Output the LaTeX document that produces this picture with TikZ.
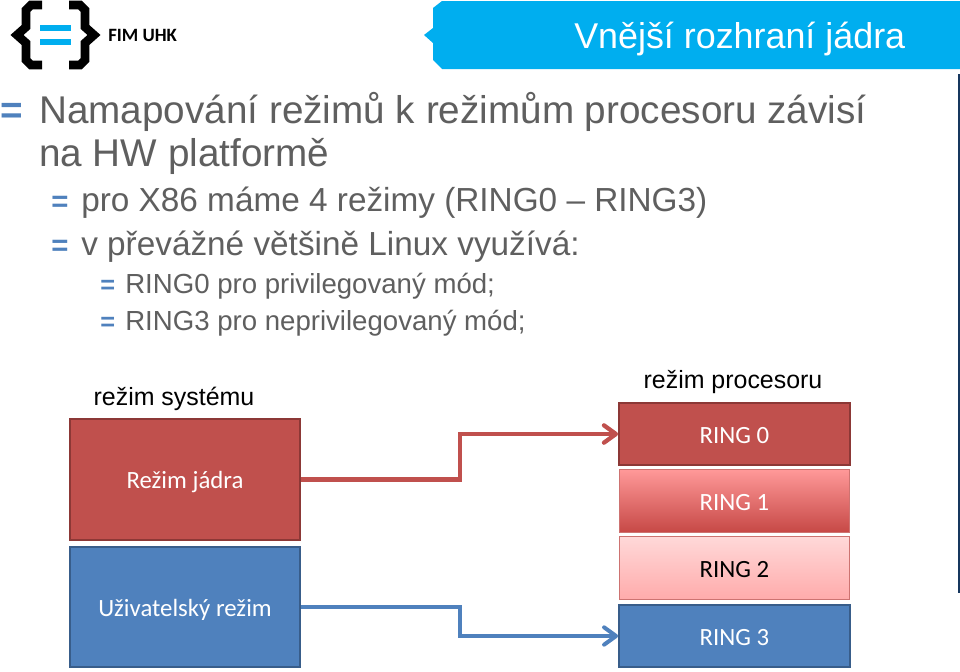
\documentclass[tikz,border=0pt]{standalone}
\usepackage{fontspec}
\setmainfont{Liberation Sans}
\newfontfamily\boxfont{Carlito}
\usetikzlibrary{arrows.meta}

\definecolor{headcyan}{HTML}{00AEEF}
\definecolor{bodygray}{HTML}{5F5F5F}
\definecolor{bulletblue}{HTML}{4F81BD}
\definecolor{barnavy}{HTML}{17375E}
\definecolor{ringred}{HTML}{C0504D}
\definecolor{ringredline}{HTML}{8C3836}
\definecolor{ringblue}{HTML}{4F81BD}
\definecolor{ringblueline}{HTML}{385D8A}

\tikzset{
	lvlone/.style={anchor=base west, inner sep=0pt, text=bodygray, font=\fontsize{29}{34}\selectfont},
	lvltwo/.style={anchor=base west, inner sep=0pt, text=bodygray, font=\fontsize{25}{30}\selectfont},
	lvlthree/.style={anchor=base west, inner sep=0pt, text=bodygray, font=\fontsize{20.7}{25}\selectfont},
	bulone/.style={lvlone, text=bulletblue, font=\bfseries\fontsize{29}{34}\selectfont},
	bultwo/.style={lvltwo, text=bulletblue, font=\bfseries\fontsize{22}{30}\selectfont},
	bulthree/.style={lvlthree, text=bulletblue, font=\bfseries\fontsize{19}{25}\selectfont},
	caption/.style={inner sep=0pt, text=black, font=\fontsize{18.7}{22}\selectfont},
	modebox/.style={rectangle, inner sep=0pt, text height=13.5pt, text depth=0pt, text=white, font=\boxfont\fontsize{18.6}{22}\selectfont},
	redbox/.style={modebox, fill=ringred, draw=ringredline, line width=1.6pt},
	bluebox/.style={modebox, fill=ringblue, draw=ringblueline, line width=1.6pt},
	redlink/.style={ringred, line width=3.4pt, -{Straight Barb[length=9pt,width=13pt,line width=3.2pt,round]}},
	bluelink/.style={ringblue, line width=2.8pt, -{Straight Barb[length=9pt,width=13pt,line width=3pt,round]}},
	brace/.style={black, line width=6.5pt}
}

\begin{document}
\begin{tikzpicture}[x=0.75pt,y=-0.75pt]

	%%% Page
	\useasboundingbox (0,0) rectangle (960,671);
	\fill[white] (0,0) rectangle (960,671);
	\fill[barnavy] (958,74) rectangle (960,593);

	%%% Logo
	\draw[brace] (42,5) -- (31,5) -- (26,10) -- (26,27) -- (17,35) -- (26,43) -- (26,60) -- (31,65) -- (42,65);
	\draw[brace] (69,5) -- (80,5) -- (85,10) -- (85,27) -- (94,35) -- (85,43) -- (85,60) -- (80,65) -- (69,65);
	\fill[headcyan] (40,25) rectangle (71,31);
	\fill[headcyan] (40,39) rectangle (71,45);
	\node[anchor=base west, inner sep=0pt, font=\boxfont\bfseries\fontsize{14.1}{16}\selectfont] (logo_text) at (108,41) {FIM UHK};

	%%% Header
	\fill[headcyan] (442,1) -- (960,1) -- (960,69) -- (442,69) -- (433,60) -- (433,43) -- (424,35) -- (433,28) -- (433,8) -- cycle;
	\node[anchor=base west, inner sep=0pt, text=white, font=\fontsize{26.9}{32}\selectfont] (title) at (574,48) {Vnější rozhraní jádra};

	%%% Body text
	\node[bulone] (bul_a) at (0,123) {=};
	\node[lvlone] (line_a) at (39,123) {Namapování režimů k režimům procesoru závisí};
	\node[lvlone] (line_b) at (39,166) {na HW platformě};
	\node[bultwo] (bul_c) at (51,211) {=};
	\node[lvltwo] (line_c) at (81,211) {pro X86 máme 4 režimy (RING0 -- RING3)};
	\node[bultwo] (bul_d) at (51,255) {=};
	\node[lvltwo] (line_d) at (81,255) {v převážné většině Linux využívá:};
	\node[bulthree] (bul_e) at (100,293) {=};
	\node[lvlthree] (line_e) at (125,293) {RING0 pro privilegovaný mód;};
	\node[bulthree] (bul_f) at (100,330) {=};
	\node[lvlthree] (line_f) at (125,330) {RING3 pro neprivilegovaný mód;};

	%%% Captions
	\node[caption] (cap_sys) at (174,398.5) {režim systému};
	\node[caption] (cap_cpu) at (733,382.5) {režim procesoru};

	%%% System modes
	\node[redbox, minimum width=173pt, minimum height=91pt] (kernel) at (185,479.5) {Režim jádra};
	\node[bluebox, minimum width=173pt, minimum height=90pt] (user) at (185,607) {Uživatelský režim};

	%%% Rings
	\node[redbox, minimum width=173pt, minimum height=47pt] (ring0) at (734.5,434) {RING 0};
	\node[modebox, draw=ringred!80, line width=0.8pt, top color=red!40!white, middle color=ringred!70!red!75, bottom color=ringred!90!red, minimum width=173pt, minimum height=47.5pt] (ring1) at (734.5,501) {RING 1};
	\node[modebox, draw=ringred!80, line width=0.8pt, top color=red!15!white, bottom color=red!33!white, text=black, minimum width=173pt, minimum height=47.5pt] (ring2) at (734.5,568) {RING 2};
	\node[bluebox, minimum width=173pt, minimum height=47pt] (ring3) at (734.5,636) {RING 3};

	%%% Links
	\draw[redlink] (kernel.east) -- (460,479.5) -- (460,434) -- (ring0.west);
	\draw[bluelink] (user.east) -- (460,607) -- (460,636) -- (ring3.west);

\end{tikzpicture}
\end{document}
